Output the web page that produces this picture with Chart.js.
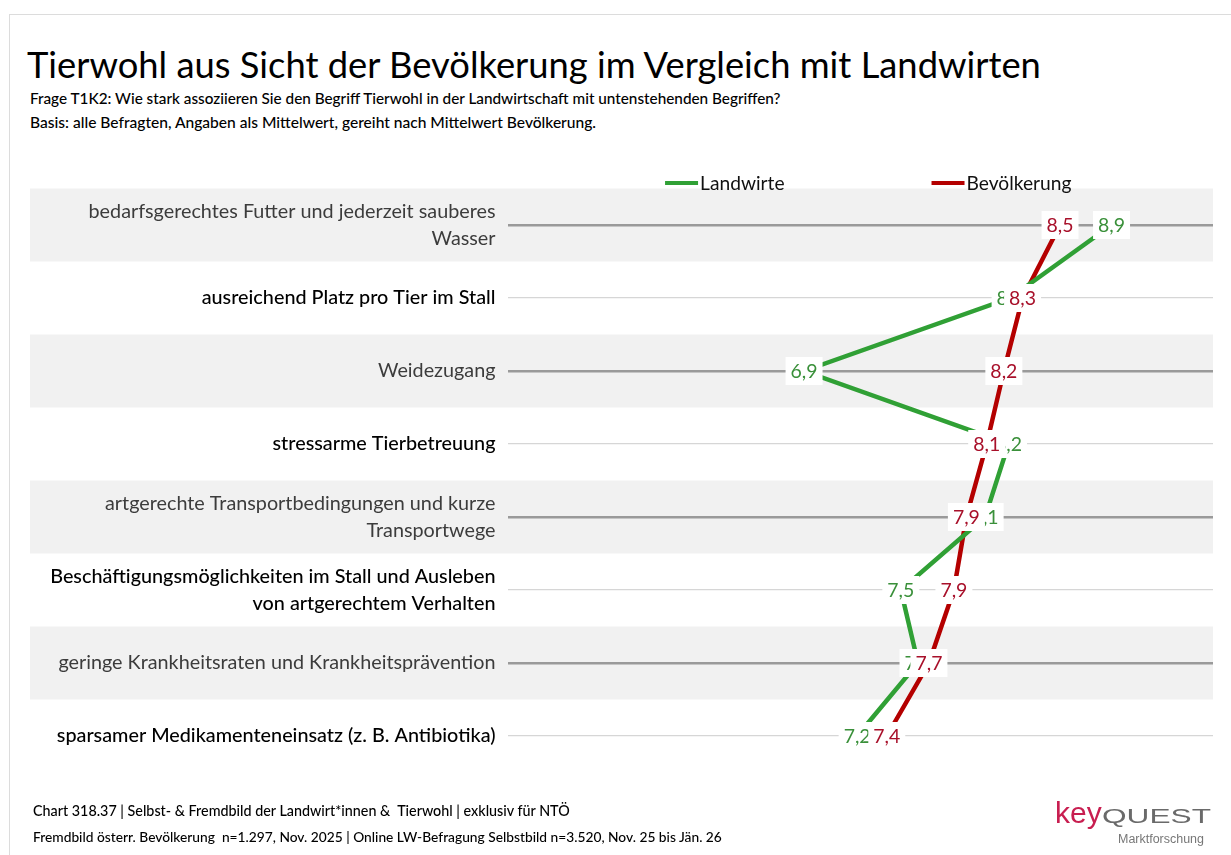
<!DOCTYPE html>
<html lang="de">
<head>
<meta charset="utf-8">
<script src="https://cdn.jsdelivr.net/npm/chart.js@4.4.1/dist/chart.umd.min.js"></script>
<style>
  html, body { margin: 0; padding: 0; background: #fff; }
  body { width: 1231px; height: 855px; position: relative; overflow: hidden; font-family: Lato, "Noto Sans", sans-serif; }
  .t { position: absolute; white-space: pre; line-height: 1; color: #000; }
  #frameTop { position: absolute; left: 9px; top: 14px; width: 1222px; height: 1px; background: #dcdcdc; }
  #frameLeft { position: absolute; left: 9px; top: 14px; width: 1px; height: 841px; background: #dcdcdc; }
  #wrap { position: absolute; left: 0; top: 150px; width: 1231px; height: 680px; }
  canvas { display: block; }
  .logo { font-family: "Liberation Sans", Arial, sans-serif; transform-origin: 0 0; }
</style>
</head>
<body>
<div id="frameTop"></div>
<div id="frameLeft"></div>
<div class="t" id="title">Tierwohl aus Sicht der Bevölkerung im Vergleich mit Landwirten</div>
<div class="t" id="sub1">Frage T1K2: Wie stark assoziieren Sie den Begriff Tierwohl in der Landwirtschaft mit untenstehenden Begriffen?</div>
<div class="t" id="sub2">Basis: alle Befragten, Angaben als Mittelwert, gereiht nach Mittelwert Bevölkerung.</div>
<div id="wrap"><canvas id="c" width="1231" height="680"></canvas></div>
<div class="t" id="foot1">Chart 318.37 | Selbst- &amp; Fremdbild der Landwirt*innen &amp;  Tierwohl | exklusiv für NTÖ</div>
<div class="t" id="foot2">Fremdbild österr. Bevölkerung  n=1.297, Nov. 2025 | Online LW-Befragung Selbstbild n=3.520, Nov. 25 bis Jän. 26</div>
<div class="t logo" id="logoKey" style="color:#c81e50;">key</div>
<div class="t logo" id="logoQuest" style="color:#6a6a6a;">QUEST</div>
<div class="t logo" id="logoSub" style="color:#777;">Marktforschung</div>
<script>
// ---------- data ----------
const categories = [
  ['bedarfsgerechtes Futter und jederzeit sauberes', 'Wasser'],
  'ausreichend Platz pro Tier im Stall',
  'Weidezugang',
  'stressarme Tierbetreuung',
  ['artgerechte Transportbedingungen und kurze', 'Transportwege'],
  ['Beschäftigungsmöglichkeiten im Stall und Ausleben', 'von artgerechtem Verhalten'],
  'geringe Krankheitsraten und Krankheitsprävention',
  'sparsamer Medikamenteneinsatz (z. B. Antibiotika)'
];
const seriesNames = ['Landwirte', 'Bevölkerung'];
const landwirte    = [8.87, 8.22, 6.90, 8.21, 8.06, 7.52, 7.63, 7.24];
const bevoelkerung = [8.54, 8.30, 8.18, 8.07, 7.94, 7.86, 7.70, 7.43];

// ---------- styles ----------
const GREEN_LINE = '#30a035', GREEN_TEXT = '#3a903a';
const RED_LINE = '#b40000', RED_TEXT = '#a8102a';
const FONT = 'Lato, "Noto Sans", sans-serif';

const mctx = document.createElement('canvas').getContext('2d');
function fitSize(text, family, weight, target) {
  mctx.font = weight + ' 100px ' + family;
  return 100 * target / mctx.measureText(text).width;
}
function place(id, left, width, baseline, weight, family, ascentRatio) {
  const el = document.getElementById(id);
  const fam = family || FONT;
  const w = weight || 'normal';
  const size = fitSize(el.textContent, fam, w, width);
  el.style.fontFamily = fam;
  el.style.fontWeight = w;
  el.style.fontSize = size.toFixed(2) + 'px';
  el.style.left = left + 'px';
  el.style.top = (baseline - (ascentRatio || 0.887) * size).toFixed(1) + 'px';
  return size;
}
place('title', 27, 1016, 78);
place('sub1', 30, 753, 105, '500');
place('sub2', 30, 567, 129, '500');
place('foot1', 33, 538, 817, '500');
place('foot2', 33, 690, 842, '500');
(function () {
  const ar = 0.8465;
  const key = document.getElementById('logoKey');
  key.style.fontSize = '30px'; key.style.left = '1055px'; key.style.top = (823 - ar * 30) + 'px';
  const q = document.getElementById('logoQuest');
  q.style.fontSize = '20.5px'; q.style.left = '1102px'; q.style.top = (823 - ar * 20.5) + 'px';
  mctx.font = '20.5px "Liberation Sans", Arial';
  q.style.transform = 'scaleX(' + (109 / mctx.measureText('QUEST').width).toFixed(3) + ')';
  place('logoSub', 1118, 86, 844, 'normal', '"Liberation Sans", Arial, sans-serif', ar);
})();

const tickSize = fitSize('sparsamer Medikamenteneinsatz (z. B. Antibiotika)', FONT, 'normal', 437);
const valSize = fitSize('8,5', FONT, 'normal', 27);
const legSize = fitSize('Bevölkerung', FONT, 'normal', 105);

function fmt(v) { return v.toFixed(1).replace('.', ','); }

const bandPlugin = {
  id: 'bands',
  beforeDraw(chart) {
    const y = chart.scales.y, ca = chart.chartArea, ctx = chart.ctx;
    const step = (ca.bottom - ca.top) / categories.length;
    ctx.save();
    ctx.fillStyle = '#f1f1f1';
    categories.forEach((c, i) => {
      if (i % 2 === 0) {
        const yc = y.getPixelForValue(i);
        ctx.fillRect(y.left, yc - step / 2, ca.right - y.left, step);
      }
    });
    ctx.restore();
  }
};

const valuePlugin = {
  id: 'values',
  afterDatasetsDraw(chart) {
    const ctx = chart.ctx;
    ctx.save();
    ctx.font = valSize.toFixed(2) + 'px ' + FONT;
    ctx.textAlign = 'center';
    ctx.textBaseline = 'middle';
    chart.data.datasets.forEach((ds, i) => {
      const meta = chart.getDatasetMeta(i);
      meta.data.forEach((pt, j) => {
        const txt = fmt(ds.data[j]);
        const w = ctx.measureText(txt).width + 10;
        const h = 28;
        ctx.fillStyle = '#ffffff';
        ctx.fillRect(pt.x - w / 2, pt.y - h / 2, w, h);
        ctx.fillStyle = ds.labelColor;
        ctx.fillText(txt, pt.x, pt.y + 1);
      });
    });
    ctx.restore();
  }
};

const legendPlugin = {
  id: 'customLegend',
  afterDraw(chart) {
    const ctx = chart.ctx, ca = chart.chartArea;
    const lineLen = 33, gapText = 2, gapItems = 147;
    ctx.save();
    ctx.font = legSize.toFixed(2) + 'px ' + FONT;
    const items = chart.data.datasets.map(ds => ({
      text: ds.label, color: ds.borderColor, w: lineLen + gapText + ctx.measureText(ds.label).width
    }));
    const total = items.reduce((s, it) => s + it.w, 0) + gapItems * (items.length - 1);
    let x = (ca.left + ca.right) / 2 + 8 - total / 2;
    const y = 33;
    ctx.textBaseline = 'middle';
    ctx.textAlign = 'left';
    items.forEach(it => {
      ctx.strokeStyle = it.color;
      ctx.lineWidth = 4;
      ctx.beginPath();
      ctx.moveTo(x, y); ctx.lineTo(x + lineLen, y);
      ctx.stroke();
      ctx.fillStyle = '#111';
      ctx.fillText(it.text, x + lineLen + gapText, y + 1);
      x += it.w + gapItems;
    });
    ctx.restore();
  }
};

new Chart(document.getElementById('c'), {
  type: 'line',
  data: {
    labels: categories,
    datasets: [
      { label: seriesNames[0], data: landwirte, borderColor: GREEN_LINE, backgroundColor: GREEN_LINE,
        labelColor: GREEN_TEXT, borderWidth: 4.5, pointRadius: 0, tension: 0, fill: false },
      { label: seriesNames[1], data: bevoelkerung, borderColor: RED_LINE, backgroundColor: RED_LINE,
        labelColor: RED_TEXT, borderWidth: 4.5, pointRadius: 0, tension: 0, fill: false }
    ]
  },
  options: {
    indexAxis: 'y',
    responsive: false,
    animation: false,
    devicePixelRatio: 1,
    layout: { padding: { top: 38.5, bottom: 57.5, left: 30, right: 18 } },
    plugins: { legend: { display: false }, tooltip: { enabled: false } },
    scales: {
      x: { type: 'linear', min: 5.0, max: 9.52, display: false },
      y: {
        type: 'category',
        offset: true,
        border: { display: false },
        grid: {
          offset: false,
          drawTicks: false,
          color: c => (c.index % 2 === 0 ? '#9a9a9a' : '#d6d6d6'),
          lineWidth: c => (c.index % 2 === 0 ? 2.5 : 1.2)
        },
        ticks: {
          autoSkip: false,
          padding: 12,
          color: c => (c.index % 2 === 0 ? '#3c3c3c' : '#000000'),
          font: c => ({ family: FONT, size: tickSize, weight: (c.index % 2 === 0 ? 'normal' : '500'), lineHeight: 27 / tickSize })
        },
        afterFit: s => { s.width = 477.5; s.paddingTop = 0; s.paddingBottom = 0; }
      }
    }
  },
  plugins: [bandPlugin, valuePlugin, legendPlugin]
});
</script>
</body>
</html>
